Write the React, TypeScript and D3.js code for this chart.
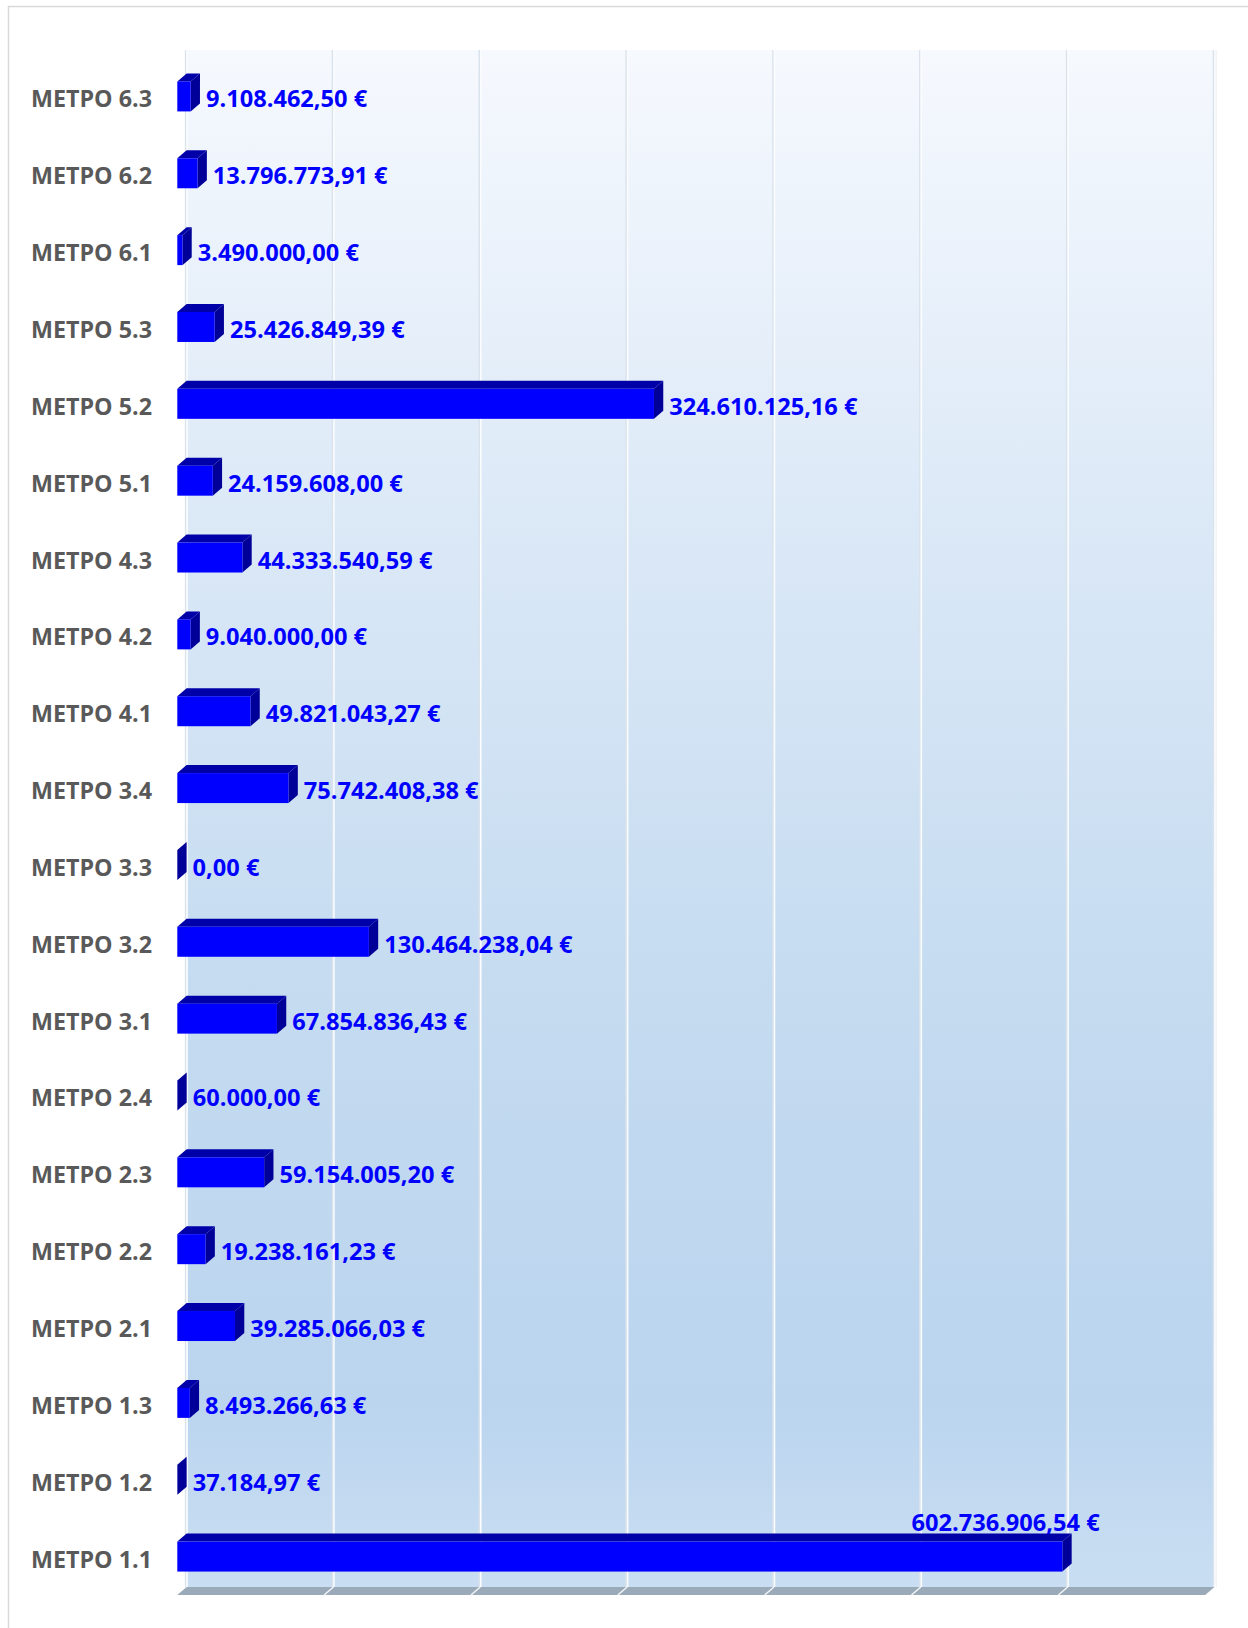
import React from "react";
import * as d3 from "d3";

const categories = [
  "ΜΕΤΡΟ 6.3", "ΜΕΤΡΟ 6.2", "ΜΕΤΡΟ 6.1", "ΜΕΤΡΟ 5.3", "ΜΕΤΡΟ 5.2", "ΜΕΤΡΟ 5.1",
  "ΜΕΤΡΟ 4.3", "ΜΕΤΡΟ 4.2", "ΜΕΤΡΟ 4.1", "ΜΕΤΡΟ 3.4", "ΜΕΤΡΟ 3.3", "ΜΕΤΡΟ 3.2",
  "ΜΕΤΡΟ 3.1", "ΜΕΤΡΟ 2.4", "ΜΕΤΡΟ 2.3", "ΜΕΤΡΟ 2.2", "ΜΕΤΡΟ 2.1", "ΜΕΤΡΟ 1.3",
  "ΜΕΤΡΟ 1.2", "ΜΕΤΡΟ 1.1",
];
const values = [
  9108462.5, 13796773.91, 3490000.0, 25426849.39, 324610125.16, 24159608.0,
  44333540.59, 9040000.0, 49821043.27, 75742408.38, 0, 130464238.04,
  67854836.43, 60000.0, 59154005.2, 19238161.23, 39285066.03, 8493266.63,
  37184.97, 602736906.54,
];
const axisMax = 700000000;
const gridStep = 100000000;

const locale = d3.formatLocale({ decimal: ",", thousands: ".", grouping: [3], currency: ["", " €"] });
const fmt = (v: number) => locale.format(",.2f")(v) + " €";

export default function App() {
  const W = 1248, H = 1628;
  const dx = 9.3, dy = 8;
  const x = d3.scaleLinear().domain([0, axisMax]).range([177.3, 1205.2]);
  const y = d3.scaleBand<string>().domain(categories).range([58, 1595]).padding(0);
  const bw = y.bandwidth();
  const barH = 30;
  const wallTop = 58 - dy, wallBottom = 1595 - dy;
  const wallLeft = x(0) + dx, wallRight = x(axisMax) + dx;
  const ticks = d3.range(0, axisMax + 1, gridStep);
  const catFont = 23.3, valFont = 23.6;

  return (
    <svg width={W} height={H} style={{ position: "absolute", left: 0, top: 0 }}
      fontFamily="'Open Sans', sans-serif">
      <defs>
        <linearGradient id="wall" x1="0" y1="0" x2="0" y2="1">
          <stop offset="0" stopColor="#f6f9fe" />
          <stop offset="0.3" stopColor="#dce9f7" />
          <stop offset="0.62" stopColor="#c4dbf0" />
          <stop offset="0.88" stopColor="#bbd5ef" />
          <stop offset="1" stopColor="#c9def2" />
        </linearGradient>
      </defs>
      <rect x={0} y={0} width={W} height={H} fill="#ffffff" />
      <rect x={8.5} y={6.5} width={W + 20} height={H + 20} fill="none" stroke="#d9d9d9" strokeWidth={1.5} />
      {/* back wall */}
      <rect x={wallLeft} y={wallTop} width={wallRight - wallLeft} height={wallBottom - wallTop} fill="url(#wall)" />
      <line x1={wallRight + 1} x2={wallRight + 1} y1={wallTop} y2={wallBottom} stroke="#e6ecf2" strokeWidth={2} />
      {/* gridlines on wall */}
      {ticks.map((t) => (
        <g key={"g" + t}>
          <line x1={x(t) + dx - 1} x2={x(t) + dx - 1} y1={wallTop} y2={wallBottom} stroke="#dae2eb" strokeWidth={1.5} />
          <line x1={x(t) + dx + 0.5} x2={x(t) + dx + 0.5} y1={wallTop} y2={wallBottom} stroke="#fafcfe" strokeWidth={1.6} />
        </g>
      ))}
      {/* floor */}
      <polygon
        points={`${x(0)},${1595} ${x(0) + dx},${wallBottom} ${wallRight},${wallBottom} ${x(axisMax)},${1595}`}
        fill="#9aaab8"
      />
      {ticks.slice(1, -1).map((t) => (
        <line key={"f" + t} x1={x(t) + dx} y1={wallBottom} x2={x(t)} y2={1595} stroke="#f2f5f8" strokeWidth={1.5} />
      ))}
      {/* bars */}
      {categories.map((c, i) => {
        const v = values[i];
        const cy = (y(c) as number) + bw / 2;
        const top = cy - barH / 2, bot = cy + barH / 2;
        const x0 = x(0), x1 = x(v);
        const label = fmt(v);
        const estW = label.length * valFont * 0.52;
        const sideRight = x1 + dx;
        const fits = sideRight + 6 + estW < wallRight;
        return (
          <g key={c}>
            <polygon points={`${x0},${top} ${x0 + dx},${top - dy} ${x1 + dx},${top - dy} ${x1},${top}`} fill="#0000a8" />
            <polygon points={`${x1},${top} ${x1 + dx},${top - dy} ${x1 + dx},${bot - dy} ${x1},${bot}`} fill="#000098" />
            {x1 - x0 > 0.01 && <rect x={x0} y={top} width={x1 - x0} height={barH} fill="#0000ff" />}
            <text x={152} y={cy + 2} textAnchor="end" dominantBaseline="central" fontSize={catFont}
              fontWeight="bold" fill="#595959">{c}</text>
            {fits ? (
              <text x={sideRight + 6} y={cy + 2} dominantBaseline="central" fontSize={valFont}
                fontWeight="bold" fill="#0000ff">{label}</text>
            ) : (
              <text x={sideRight + 28} y={top - 11} textAnchor="end" fontSize={valFont}
                fontWeight="bold" fill="#0000ff">{label}</text>
            )}
          </g>
        );
      })}
    </svg>
  );
}
